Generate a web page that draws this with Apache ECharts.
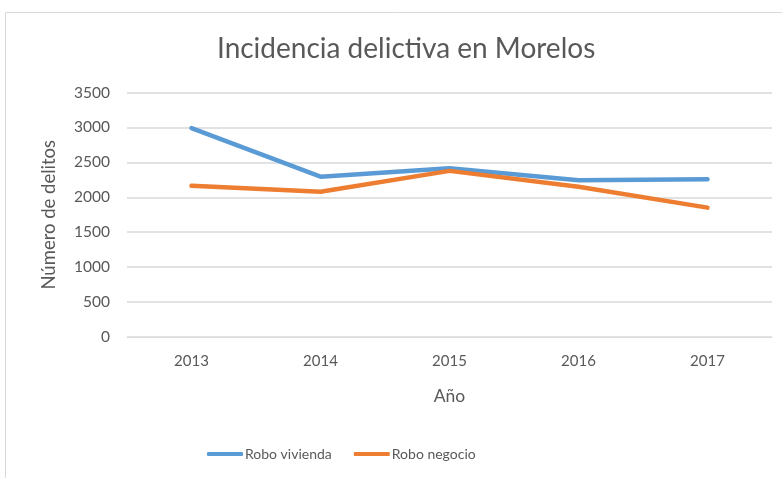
<!DOCTYPE html>
<html>
<head>
<meta charset="utf-8">
<script src="https://cdn.jsdelivr.net/npm/echarts@6/dist/echarts.min.js"></script>
<style>
  html, body { margin: 0; padding: 0; background: #fff; }
  #chart { width: 782px; height: 478px; }
</style>
</head>
<body>
<div id="chart"></div>
<script>
const years = ['2013', '2014', '2015', '2016', '2017'];
const roboVivienda = [2990, 2295, 2415, 2245, 2258];
const roboNegocio = [2165, 2080, 2378, 2150, 1852];
const yTicks = { min: 0, max: 3500, interval: 500 };

const font = 'Lato, "Open Sans", sans-serif';
const textGray = '#595959';

const chart = echarts.init(document.getElementById('chart'));
chart.setOption({
  animation: false,
  backgroundColor: '#fff',
  graphic: [{
    type: 'rect',
    shape: { x: 5.5, y: 12.5, width: 800, height: 470 },
    style: { fill: 'none', stroke: '#d9d9d9', lineWidth: 1 },
    silent: true
  }],
  title: {
    text: 'Incidencia delictiva en Morelos',
    left: 212,
    top: 30,
    textStyle: { fontFamily: font, fontSize: 28, fontWeight: 'normal', color: textGray }
  },
  legend: {
    top: 442,
    left: 202,
    itemWidth: 36,
    itemHeight: 4,
    itemGap: 22,
    icon: 'roundRect',
    textStyle: { fontFamily: font, fontSize: 14, color: textGray, padding: [0, 0, 0, -3] },
    data: ['Robo vivienda', 'Robo negocio']
  },
  grid: { left: 127, right: 10, top: 92.5, bottom: 141 },
  xAxis: {
    type: 'category',
    data: years,
    boundaryGap: true,
    name: 'Año',
    nameLocation: 'middle',
    nameGap: 50,
    nameTextStyle: { fontFamily: font, fontSize: 17.5, color: textGray },
    axisLine: { lineStyle: { color: '#d9d9d9' } },
    axisTick: { show: false },
    axisLabel: { fontFamily: font, fontSize: 15, color: textGray, margin: 17 }
  },
  yAxis: {
    type: 'value',
    min: yTicks.min,
    max: yTicks.max,
    interval: yTicks.interval,
    name: 'Número de delitos',
    nameLocation: 'middle',
    nameGap: 68,
    nameTextStyle: { fontFamily: font, fontSize: 18.5, color: textGray },
    axisLine: { show: false },
    axisTick: { show: false },
    axisLabel: { fontFamily: font, fontSize: 15.5, color: textGray, margin: 17, formatter: v => String(v) },
    splitLine: { lineStyle: { color: '#d9d9d9', width: 1.5 } }
  },
  series: [
    {
      name: 'Robo vivienda',
      type: 'line',
      data: roboVivienda,
      symbol: 'none',
      color: '#5b9bd5',
      lineStyle: { width: 4.5, cap: 'round', join: 'round' }
    },
    {
      name: 'Robo negocio',
      type: 'line',
      data: roboNegocio,
      symbol: 'none',
      color: '#ed7d31',
      lineStyle: { width: 4.5, cap: 'round', join: 'round' }
    }
  ]
});
</script>
</body>
</html>
